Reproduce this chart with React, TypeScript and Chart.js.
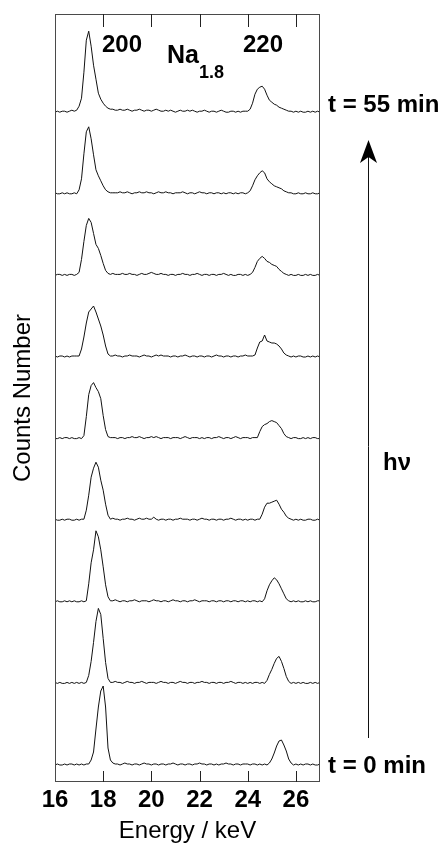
import React, { useEffect, useRef } from 'react';
import { Chart, registerables } from 'chart.js';

Chart.register(...registerables);

// Energy grid (keV)
const ENERGY_KEV = [
  16.0, 16.1, 16.2, 16.3, 16.4, 16.5, 16.6, 16.7, 16.8, 16.9,
  17.0, 17.1, 17.2, 17.3, 17.4, 17.5, 17.6, 17.7, 17.8, 17.9,
  18.0, 18.1, 18.2, 18.3, 18.4, 18.5, 18.6, 18.7, 18.8, 18.9,
  19.0, 19.1, 19.2, 19.3, 19.4, 19.5, 19.6, 19.7, 19.8, 19.9,
  20.0, 20.1, 20.2, 20.3, 20.4, 20.5, 20.6, 20.7, 20.8, 20.9,
  21.0, 21.1, 21.2, 21.3, 21.4, 21.5, 21.6, 21.7, 21.8, 21.9,
  22.0, 22.1, 22.2, 22.3, 22.4, 22.5, 22.6, 22.7, 22.8, 22.9,
  23.0, 23.1, 23.2, 23.3, 23.4, 23.5, 23.6, 23.7, 23.8, 23.9,
  24.0, 24.1, 24.2, 24.3, 24.4, 24.5, 24.6, 24.7, 24.8, 24.9,
  25.0, 25.1, 25.2, 25.3, 25.4, 25.5, 25.6, 25.7, 25.8, 25.9,
  26.0, 26.1, 26.2, 26.3, 26.4, 26.5, 26.6, 26.7, 26.8, 26.9,
  27.0,
];

const X_TICK_LABELS = [16, 18, 20, 22, 24, 26];
const INNER_TICKS = [18, 20, 22, 24, 26];

// Counts (arbitrary units), bottom spectrum (t = 0 min) first
const COUNTS_1 = [
  0, 1, 0, 0, 1, 0, 1, 1, 0, 1,
  0, 1, 0, 1, 1, 5, 13, 36, 58, 74, 79, 58, 17, 5, 2, 1,
  1, 0, 1, 2, 1, 1, 0, 1, 1, 0, 1, 2, 1, 1, 0, 1, 1, 0, 1, 1, 0, 1, 1, 2, 1, 0, 1, 1, 0, 1,
  1, 0, 1, 1, 2, 1, 1, 0, 1, 1, 0, 1, 0, 1, 1, 2, 1, 1, 0, 1, 1, 0, 1, 1,
  1, 0, 1, 1, 0, 1, 0, 1, 0, 2, 6, 12, 19, 24, 25, 20, 14, 6, 2, 0,
  1, 0, 1, 0, 1, 1, 0, 1, 0, 0, 1,
];
const COUNTS_2 = [
  1, 0, 1, 0, 0, 1, 0, 1, 0, 1,
  0, 1, 0, 1, 8, 22, 41, 62, 75, 69, 45, 21, 5, 1, 1, 2,
  1, 1, 0, 1, 2, 1, 1, 0, 1, 1, 2, 1, 0, 1, 1, 1, 0, 1, 2, 1, 1, 0, 1, 1, 0, 1, 2, 1, 1, 0,
  1, 1, 0, 1, 1, 2, 1, 1, 0, 1, 1, 0, 1, 1, 0, 1, 1, 2, 1, 0, 1, 1, 0, 1,
  0, 1, 0, 1, 1, 0, 1, 0, 3, 9, 14, 20, 25, 27, 22, 15, 7, 2, 0, 1,
  0, 1, 0, 1, 0, 0, 1, 0, 1, 0, 1,
];
const COUNTS_3 = [
  0, 1, 0, 0, 1, 0, 1, 0, 1, 0,
  0, 1, 0, 1, 18, 39, 52, 71, 65, 52, 35, 17, 5, 1, 1, 2,
  1, 0, 1, 1, 0, 1, 1, 2, 1, 0, 1, 1, 1, 0, 1, 2, 1, 1, 0, 1, 1, 0, 1, 2, 1, 1, 0, 1, 1, 0,
  1, 1, 2, 1, 0, 1, 1, 1, 0, 1, 1, 0, 1, 1, 0, 1, 1, 0, 1, 1, 0, 1, 1, 0,
  1, 0, 1, 1, 0, 1, 0, 3, 11, 17, 21, 24, 22, 18, 13, 8, 3, 1, 0, 1,
  0, 1, 0, 0, 1, 0, 1, 0, 0, 1, 1,
];
const COUNTS_4 = [
  1, 0, 0, 1, 0, 1, 1, 0, 0, 1,
  0, 1, 1, 10, 25, 43, 52, 58, 53, 40, 30, 16, 5, 1, 2, 1,
  1, 0, 1, 1, 2, 1, 1, 0, 1, 2, 1, 1, 2, 1, 1, 3, 1, 0, 1, 1, 0, 1, 1, 0, 1, 1, 2, 1, 1, 1,
  0, 1, 1, 0, 1, 2, 1, 1, 0, 1, 1, 0, 1, 1, 0, 1, 1, 2, 1, 0, 1, 1, 0, 1,
  0, 1, 1, 0, 1, 1, 6, 13, 17, 17, 18, 19, 20, 16, 11, 8, 4, 2, 1, 0,
  1, 0, 1, 0, 0, 1, 1, 0, 0, 1, 0,
];
const COUNTS_5 = [
  0, 0, 1, 0, 1, 1, 0, 1, 0, 0,
  1, 0, 3, 22, 44, 53, 56, 51, 47, 40, 23, 9, 2, 1, 1, 1,
  0, 1, 1, 0, 1, 1, 2, 1, 1, 2, 1, 0, 1, 1, 2, 1, 2, 1, 0, 1, 1, 1, 0, 1, 1, 1, 0, 1, 2, 1,
  0, 1, 1, 1, 0, 1, 0, 1, 1, 0, 1, 1, 2, 1, 0, 1, 1, 0, 1, 2, 1, 0, 1, 1,
  1, 0, 1, 1, 1, 7, 12, 14, 15, 17, 18, 17, 16, 13, 10, 5, 2, 1, 0, 1,
  1, 0, 0, 1, 0, 1, 0, 1, 1, 0, 0,
];
const COUNTS_6 = [
  1, 0, 1, 1, 0, 1, 0, 1, 1, 1,
  1, 8, 20, 34, 45, 48, 51, 45, 38, 31, 22, 11, 3, 1, 1, 2,
  1, 1, 0, 1, 1, 2, 1, 1, 1, 0, 1, 2, 1, 1, 0, 1, 2, 1, 2, 1, 1, 1, 0, 1, 1, 0, 1, 1, 2, 1,
  0, 1, 1, 0, 1, 1, 0, 1, 1, 0, 1, 2, 1, 1, 0, 1, 1, 0, 1, 1, 0, 1, 1, 2,
  1, 1, 1, 2, 9, 15, 16, 22, 16, 15, 14, 14, 13, 11, 8, 4, 2, 1, 0, 1,
  0, 1, 1, 0, 0, 1, 0, 1, 0, 1, 0,
];
const COUNTS_7 = [
  0, 1, 1, 0, 1, 0, 1, 1, 0, 1,
  3, 16, 34, 50, 57, 53, 42, 31, 27, 20, 12, 5, 2, 1, 2, 1,
  1, 1, 2, 1, 1, 2, 1, 1, 0, 1, 2, 1, 1, 2, 3, 2, 1, 1, 2, 1, 1, 0, 1, 1, 0, 1, 1, 2, 1, 1,
  0, 1, 1, 2, 1, 0, 1, 1, 0, 1, 1, 0, 1, 1, 2, 1, 0, 1, 0, 0, 1, 1, 0, 1,
  0, 1, 3, 8, 14, 17, 19, 17, 14, 13, 11, 10, 9, 6, 4, 2, 1, 0, 1, 0,
  0, 1, 0, 0, 1, 0, 1, 0, 0, 1, 0,
];
const COUNTS_8 = [
  1, 0, 0, 1, 0, 1, 0, 0, 1, 0,
  4, 15, 40, 62, 67, 55, 39, 24, 18, 13, 8, 4, 2, 1, 1, 1,
  1, 2, 1, 1, 2, 1, 0, 1, 1, 2, 1, 1, 2, 1, 1, 0, 1, 2, 1, 1, 2, 1, 1, 0, 1, 1, 1, 2, 1, 0,
  1, 1, 0, 1, 2, 1, 1, 0, 1, 1, 0, 1, 1, 0, 1, 0, 1, 1, 0, 1, 0, 1, 1, 0,
  1, 3, 8, 14, 18, 21, 23, 21, 15, 12, 10, 8, 7, 6, 5, 3, 2, 1, 1, 0,
  0, 1, 0, 0, 1, 0, 0, 1, 0, 0, 1,
];
const COUNTS_9 = [
  0, 1, 0, 1, 1, 0, 1, 2, 1, 2,
  6, 14, 40, 72, 81, 66, 47, 33, 19, 13, 9, 6, 4, 3, 3, 2,
  2, 3, 2, 2, 3, 2, 1, 2, 2, 3, 2, 1, 2, 2, 1, 2, 3, 2, 1, 1, 2, 1, 2, 1, 0, 1, 2, 1, 1, 2,
  1, 2, 1, 0, 1, 1, 2, 1, 0, 1, 1, 0, 1, 2, 1, 0, 0, 1, 1, 0, 1, 0, 1, 1,
  1, 3, 9, 18, 23, 25, 26, 23, 17, 12, 10, 8, 7, 5, 4, 3, 2, 1, 1, 0,
  1, 0, 1, 0, 0, 1, 0, 1, 0, 1, 0,
];

const SPECTRA = [COUNTS_1, COUNTS_2, COUNTS_3, COUNTS_4, COUNTS_5, COUNTS_6, COUNTS_7, COUNTS_8, COUNTS_9];
const SPECTRUM_OFFSET = 81.6;
const Y_MIN = -17;
const Y_MAX = 751;

const FONT = '"Liberation Sans", Arial, Helvetica, sans-serif';

const annotationPlugin = {
  id: 'annotations',
  afterDraw(chart: any) {
    const ctx = chart.ctx as CanvasRenderingContext2D;
    const { left, right, top, bottom } = chart.chartArea;
    const xs = chart.scales.x;
    ctx.save();
    // frame
    ctx.strokeStyle = '#4a4a4a';
    ctx.lineWidth = 1;
    ctx.strokeRect(left + 0.5, top + 0.5, right - left - 1, bottom - top - 1);
    // inward ticks
    ctx.strokeStyle = '#222';
    ctx.beginPath();
    INNER_TICKS.forEach((v) => {
      const px = Math.round(xs.getPixelForValue(v)) + 0.5;
      ctx.moveTo(px, bottom);
      ctx.lineTo(px, bottom - 11);
      ctx.moveTo(px, top);
      ctx.lineTo(px, top + 13);
    });
    ctx.stroke();

    ctx.fillStyle = '#000';
    ctx.textBaseline = 'alphabetic';
    ctx.textAlign = 'left';
    ctx.font = `bold 24px ${FONT}`;
    ctx.fillText('200', 102, 52);
    ctx.fillText('220', 243, 52);
    ctx.font = `bold 25px ${FONT}`;
    ctx.fillText('Na', 167, 63);
    ctx.font = `bold 18px ${FONT}`;
    ctx.fillText('1.8', 199, 78);

    ctx.font = `bold 24px ${FONT}`;
    ctx.fillText('t = 55 min', 328, 112);
    ctx.fillText('t = 0 min', 328, 773);
    ctx.fillText('h\u03BD', 383, 470);

    // arrow
    ctx.strokeStyle = '#111';
    ctx.lineWidth = 1;
    ctx.beginPath();
    ctx.moveTo(368.5, 738);
    ctx.lineTo(368.5, 155);
    ctx.stroke();
    ctx.fillStyle = '#000';
    ctx.beginPath();
    ctx.moveTo(368.5, 140);
    ctx.lineTo(360, 163);
    ctx.lineTo(368.5, 157);
    ctx.lineTo(377, 163);
    ctx.closePath();
    ctx.fill();
    ctx.restore();
  },
};

export default function App() {
  const canvasRef = useRef<HTMLCanvasElement | null>(null);

  useEffect(() => {
    if (!canvasRef.current) return;
    const datasets = SPECTRA.map((counts, k) => ({
      data: counts.map((c, i) => ({ x: ENERGY_KEV[i], y: c + k * SPECTRUM_OFFSET })),
      borderColor: '#111',
      borderWidth: 1,
      pointRadius: 0,
      tension: 0,
      fill: false,
    }));
    const chart = new Chart(canvasRef.current, {
      type: 'line',
      data: { datasets },
      options: {
        animation: false,
        responsive: false,
        devicePixelRatio: 1,
        layout: { padding: { left: 0, top: 14, right: 122, bottom: 0 } },
        plugins: { legend: { display: false }, tooltip: { enabled: false } },
        scales: {
          x: {
            type: 'linear',
            min: 16,
            max: 27,
            grid: { display: false, drawTicks: false },
            border: { display: false },
            afterBuildTicks: (s: any) => {
              s.ticks = X_TICK_LABELS.map((v) => ({ value: v }));
            },
            afterFit: (s: any) => {
              s.height = 64;
            },
            ticks: {
              autoSkip: false,
              maxRotation: 0,
              padding: 4,
              color: '#000',
              font: { family: FONT, size: 24, weight: 'bold' },
            },
            title: {
              display: true,
              text: 'Energy / keV',
              color: '#000',
              font: { family: FONT, size: 24 },
              padding: { top: 0, bottom: 0 },
            },
          },
          y: {
            type: 'linear',
            min: Y_MIN,
            max: Y_MAX,
            grid: { display: false, drawTicks: false },
            border: { display: false },
            ticks: { display: false },
            afterFit: (s: any) => {
              s.width = 55;
            },
            title: {
              display: true,
              text: 'Counts Number',
              color: '#000',
              font: { family: FONT, size: 24 },
              padding: { top: 9, bottom: 0 },
            },
          },
        },
      } as any,
      plugins: [annotationPlugin],
    });
    return () => chart.destroy();
  }, []);

  return (
    <div style={{ position: 'absolute', left: 0, top: 0, width: 442, height: 846, background: '#fff' }}>
      <canvas ref={canvasRef} width={442} height={846} style={{ display: 'block' }} />
    </div>
  );
}
